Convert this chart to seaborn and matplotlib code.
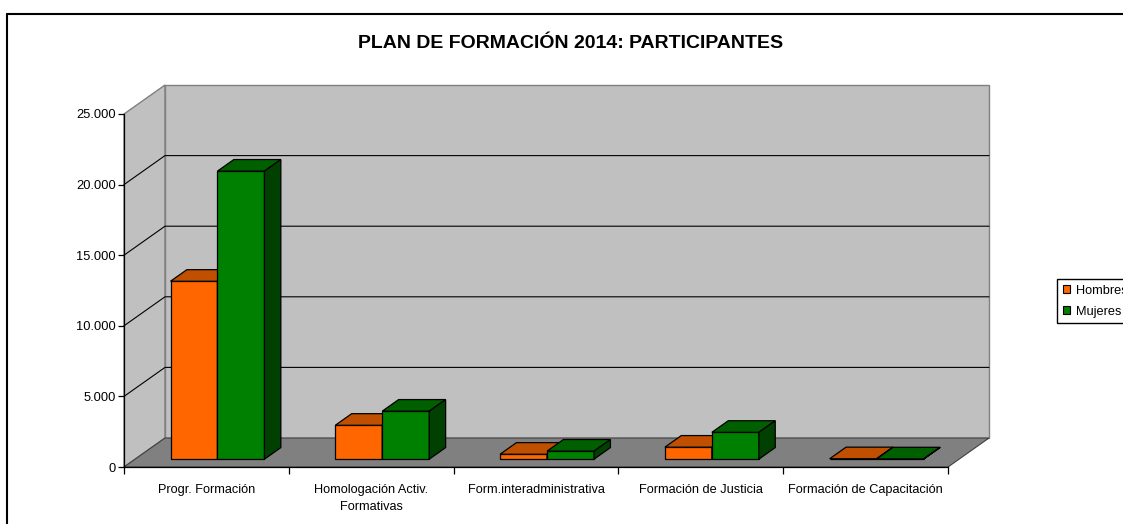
import pandas as pd
import matplotlib.pyplot as plt
import seaborn as sns
from matplotlib.patches import Polygon, Patch
from matplotlib.lines import Line2D
from matplotlib.ticker import FuncFormatter

# Datos del gráfico
categorias = ['Progr. Formación', 'Homologación Activ.\nFormativas', 'Form.interadministrativa',
              'Formación de Justicia', 'Formación de Capacitación']
hombres = [12600, 2400, 350, 850, 30]
mujeres = [20400, 3400, 570, 1900, 20]
series = ['Hombres', 'Mujeres']

colores_frente = ['#FF6600', '#008000']
colores_arriba = ['#C05000', '#006000']
colores_lado = ['#A04000', '#004000']

df = pd.DataFrame({
    'categoria': categorias * 2,
    'valor': hombres + mujeres,
    'sexo': [series[0]] * len(categorias) + [series[1]] * len(categorias),
})

sns.set_style('white')
plt.rcParams['font.family'] = ['Liberation Sans', 'DejaVu Sans']
plt.rcParams.update({'text.color': 'black', 'axes.labelcolor': 'black',
                     'xtick.color': 'black', 'ytick.color': 'black'})

W, H = 1123, 524
fig = plt.figure(figsize=(W / 100, H / 100), dpi=100)
ax = fig.add_axes([124 / W, 57 / H, 824 / W, 353 / H])

# barras (cara frontal) con seaborn
sns.barplot(data=df, x='categoria', y='valor', hue='sexo', palette=colores_frente,
            width=0.57, saturation=1, edgecolor='black', linewidth=0.9, ax=ax, legend=False)

YMAX = 25000
n = len(categorias)
ax.set_xlim(-0.5, n - 0.5)
ax.set_ylim(0, YMAX)

# profundidad 3D en unidades de datos
DX = 41 / 164.8
DY = 29 / 353 * YMAX
x0, x1 = -0.5, n - 0.5

# paredes y suelo
ax.add_patch(Polygon([(x0, 0), (x0, YMAX), (x0 + DX, YMAX + DY), (x0 + DX, DY)],
                     closed=True, facecolor='#C0C0C0', edgecolor='#808080', lw=1,
                     clip_on=False, zorder=0.5))
ax.add_patch(Polygon([(x0 + DX, DY), (x1 + DX, DY), (x1 + DX, YMAX + DY), (x0 + DX, YMAX + DY)],
                     closed=True, facecolor='#C0C0C0', edgecolor='#808080', lw=1,
                     clip_on=False, zorder=0.5))
for v in range(5000, YMAX, 5000):
    ax.add_line(Line2D([x0, x0 + DX, x1 + DX], [v, v + DY, v + DY], color='black', lw=0.8,
                       clip_on=False, zorder=0.6))
ax.add_patch(Polygon([(x0, 0), (x1, 0), (x1 + DX, DY), (x0 + DX, DY)],
                     closed=True, facecolor='#808080', edgecolor='#404040', lw=0.8,
                     clip_on=False, zorder=0.7))

f = 0.27   # posición de la cara frontal dentro de la profundidad
d = 0.40   # profundidad de la barra
for s, cont in enumerate(ax.containers):
    z = 3 + s
    for p in cont:
        p.set_x(p.get_x() + f * DX)
        p.set_y(p.get_y() + f * DY)
        p.set_zorder(z)
        p.set_clip_on(False)
        x, y, w, h = p.get_x(), p.get_y(), p.get_width(), p.get_height()
        ax.add_patch(Polygon([(x, y + h), (x + w, y + h), (x + w + d * DX, y + h + d * DY),
                              (x + d * DX, y + h + d * DY)], closed=True,
                             facecolor=colores_arriba[s], edgecolor='black', lw=0.9,
                             clip_on=False, zorder=z))
        ax.add_patch(Polygon([(x + w, y), (x + w, y + h), (x + w + d * DX, y + h + d * DY),
                              (x + w + d * DX, y + d * DY)], closed=True,
                             facecolor=colores_lado[s], edgecolor='black', lw=0.9,
                             clip_on=False, zorder=z))

# ejes
for side in ['top', 'right']:
    ax.spines[side].set_visible(False)
for side in ['left', 'bottom']:
    ax.spines[side].set_color('black')
    ax.spines[side].set_linewidth(0.9)
    ax.spines[side].set_zorder(1)
ax.set_facecolor('none')
ax.set_yticks(range(0, YMAX + 1, 5000))
ax.yaxis.set_major_formatter(FuncFormatter(lambda v, _: f'{int(v):,}'.replace(',', '.')))
ax.tick_params(axis='y', length=4, width=0.9, labelsize=9.3, pad=2, left=True, color='black')
ax.set_xticks(range(n))
ax.set_xticklabels(categorias, fontsize=9.2, linespacing=1.6)
ax.set_xticks([i - 0.5 for i in range(n + 1)], minor=True)
ax.tick_params(axis='x', which='major', length=0, pad=12)
ax.tick_params(axis='x', which='minor', length=5, width=0.9, bottom=True, color='black')
ax.set_xlabel('')
ax.set_ylabel('')
ax.grid(False)

fig.text(571 / W, 1 - 44 / H, 'PLAN DE FORMACIÓN 2014: PARTICIPANTES',
         ha='center', va='center', fontsize=14, fontweight='bold')

handles = [Patch(facecolor=c, edgecolor='black', lw=0.8) for c in colores_frente]
fig.legend(handles, series, loc='upper left', bbox_to_anchor=(1057 / W, 1 - 279 / H),
           fontsize=9.2, frameon=True, fancybox=False, edgecolor='black', framealpha=1,
           handlelength=0.6, handleheight=0.6, handletextpad=0.4, borderpad=0.45,
           labelspacing=0.7, borderaxespad=0)

# borde del gráfico
fig.add_artist(Line2D([7 / W, 1], [1 - 14 / H, 1 - 14 / H], color='black', lw=1.5,
                      transform=fig.transFigure))
fig.add_artist(Line2D([7 / W, 7 / W], [0, 1 - 14 / H], color='black', lw=1.5,
                      transform=fig.transFigure))

plt.savefig('out.png', dpi=100)
